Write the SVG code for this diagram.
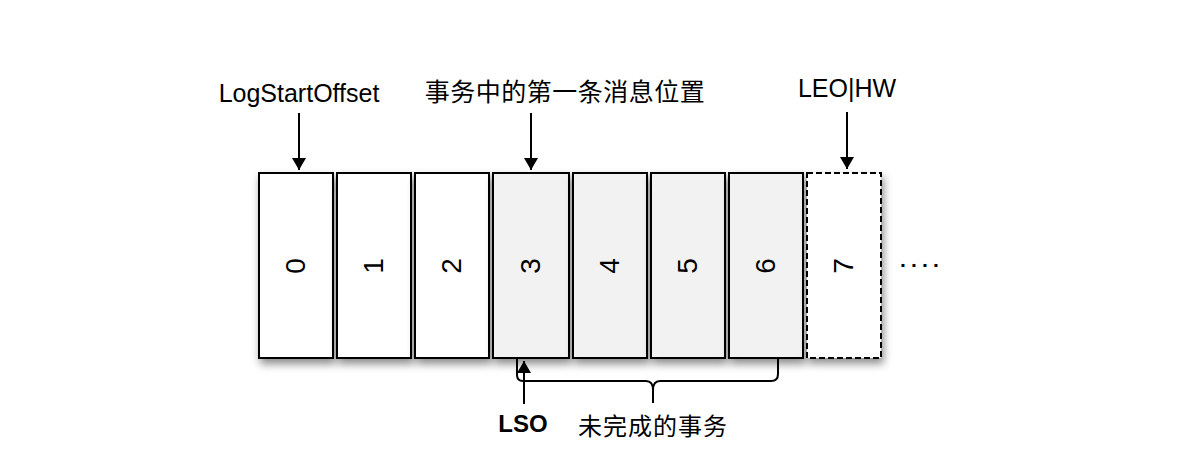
<svg xmlns="http://www.w3.org/2000/svg" width="1192" height="462" viewBox="0 0 1192 462">
<defs>
<style>
.box{stroke:#000;stroke-width:2;}
.w{fill:#fff;}
.g{fill:#f2f2f2;}
.dash{fill:#fff;stroke-dasharray:6 3;}
.num{font-family:"Liberation Sans",Arial,sans-serif;font-size:28px;text-anchor:middle;fill:#000;}
.lbl{font-family:"Liberation Sans","Noto Sans CJK SC",sans-serif;font-size:25px;fill:#000;text-anchor:middle;}
.cjk{font-family:"Liberation Sans","Noto Sans CJK SC",sans-serif;font-size:25px;fill:#000;text-anchor:middle;}
.ln{stroke:#000;stroke-width:2;fill:none;}
</style>
<filter id="sh" x="-20%" y="-20%" width="150%" height="150%">
<feDropShadow dx="2" dy="5" stdDeviation="4" flood-color="#000" flood-opacity="0.45"/>
</filter>
<marker id="ah" viewBox="0 0 12 14" refX="12" refY="7" markerWidth="12" markerHeight="14" markerUnits="userSpaceOnUse" orient="auto">
<path d="M0,0 L12,7 L0,14 Z" fill="#000"/>
</marker>
</defs>
<g id="node-0"><rect class="box w" x="259" y="173" width="74" height="185" filter="url(#sh)"/><text class="num" transform="translate(305,266) rotate(-90)">0</text></g>
<g id="node-1"><rect class="box w" x="337" y="173" width="74" height="185" filter="url(#sh)"/><text class="num" transform="translate(383,266) rotate(-90)">1</text></g>
<g id="node-2"><rect class="box w" x="415" y="173" width="74" height="185" filter="url(#sh)"/><text class="num" transform="translate(461,266) rotate(-90)">2</text></g>
<g id="node-3"><rect class="box g" x="493" y="173" width="76" height="185" filter="url(#sh)"/><text class="num" transform="translate(540,266) rotate(-90)">3</text></g>
<g id="node-4"><rect class="box g" x="573" y="173" width="74" height="185" filter="url(#sh)"/><text class="num" transform="translate(619,266) rotate(-90)">4</text></g>
<g id="node-5"><rect class="box g" x="651" y="173" width="74" height="185" filter="url(#sh)"/><text class="num" transform="translate(697,266) rotate(-90)">5</text></g>
<g id="node-6"><rect class="box g" x="729" y="173" width="74" height="185" filter="url(#sh)"/><text class="num" transform="translate(775,266) rotate(-90)">6</text></g>
<g id="node-7"><rect class="box dash" x="807" y="173" width="74" height="185" filter="url(#sh)"/><text class="num" transform="translate(853,266) rotate(-90)">7</text></g>
<g id="ellipsis"><text x="922" y="272" style="font-family:'Liberation Sans',sans-serif;font-size:21px;font-weight:bold;text-anchor:middle;letter-spacing:4px">····</text></g>
<g id="label-logstart"><text class="lbl" x="299" y="102">LogStartOffset</text></g>
<g id="label-first"><text class="cjk" x="565" y="101" style="letter-spacing:0.5px">事务中的第一条消息位置</text></g>
<g id="label-leo"><text class="lbl" x="847" y="97">LEO|HW</text></g>
<g id="label-lso"><text class="lbl" x="523" y="432" style="font-weight:bold;font-size:24px">LSO</text></g>
<g id="label-uncommitted"><text class="cjk" x="653" y="435" style="font-size:24px;letter-spacing:1px">未完成的事务</text></g>
<g id="connectors">
<line class="ln" x1="299" y1="113" x2="299" y2="170" marker-end="url(#ah)"/>
<line class="ln" x1="531" y1="113" x2="531" y2="170" marker-end="url(#ah)"/>
<line class="ln" x1="847" y1="112" x2="847" y2="169" marker-end="url(#ah)"/>
<line class="ln" x1="524" y1="404" x2="524" y2="361" marker-end="url(#ah)"/>
<path class="ln" d="M517,358 V375 Q517,381 523,381 H646 Q653,381 653,390 V403 M653,390 Q653,381 660,381 H771 Q778,381 778,374 V358"/>
</g>
</svg>
